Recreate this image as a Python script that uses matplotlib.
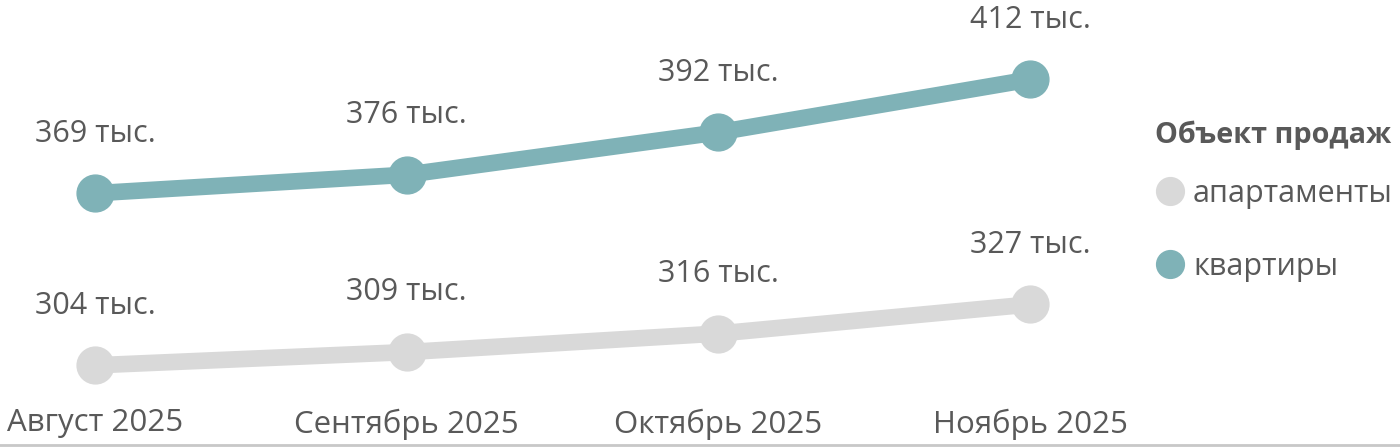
import matplotlib
matplotlib.use("Agg")
import matplotlib.pyplot as plt
from matplotlib.lines import Line2D

months = ["Август 2025", "Сентябрь 2025", "Октябрь 2025", "Ноябрь 2025"]
apartments = [304, 309, 316, 327]
flats = [369, 376, 392, 412]
series_names = ["апартаменты", "квартиры"]
legend_title = "Объект продаж"

grey = "#d9d9d9"
teal = "#7fb2b7"
text_col = "#595959"

plt.rcParams['font.family'] = ['Open Sans', 'DejaVu Sans']

W, H = 1400, 447
fig = plt.figure(figsize=(W / 100, H / 100), dpi=100)
# axes from top of figure down to y=400 px
ax = fig.add_axes([0, (H - 400) / H, 1, 400 / H])

x = list(range(len(months)))
for vals, col in ((apartments, grey), (flats, teal)):
    ax.plot(x, vals, color=col, lw=12, marker='o', ms=26.5,
            solid_capstyle='round', solid_joinstyle='round', zorder=3)
    for xi, v in zip(x, vals):
        ax.annotate(f"{v} тыс.", (xi, v), xytext=(0, 43), textcoords='offset points',
                    ha='center', va='center', fontsize=22, color=text_col)

px_per_unit = (1030 - 95) / 3
ax.set_xlim(-95 / px_per_unit, (W - 95) / px_per_unit)
ax.set_ylim(290.9, 442.0)

ax.set_xticks(x)
ax.set_xticklabels(months, fontsize=22.5, color=text_col)
ax.tick_params(axis='x', length=0, pad=6)
ax.set_yticks([])
for s in ax.spines.values():
    s.set_visible(False)

# legend: title as separate text, entries below it
fig.text(1155 / W, 1 - 135 / H, legend_title, ha='left', va='center',
         fontsize=20.8, fontweight='bold', color=text_col)
handles = [Line2D([], [], ls='', marker='o', ms=20, color=c) for c in (grey, teal)]
leg = ax.legend(handles, series_names, loc='upper left',
                bbox_to_anchor=(1161 / W, 1 - 179 / 400), frameon=False,
                fontsize=22, handlelength=0.6, handletextpad=0.45, labelspacing=1.4,
                borderpad=0, borderaxespad=0)
for t in leg.get_texts():
    t.set_color(text_col)

fig.add_artist(Line2D([0, 1], [2 / H, 2 / H], color="#c8c8c8", lw=2))

fig.savefig("out.png", dpi=100)
